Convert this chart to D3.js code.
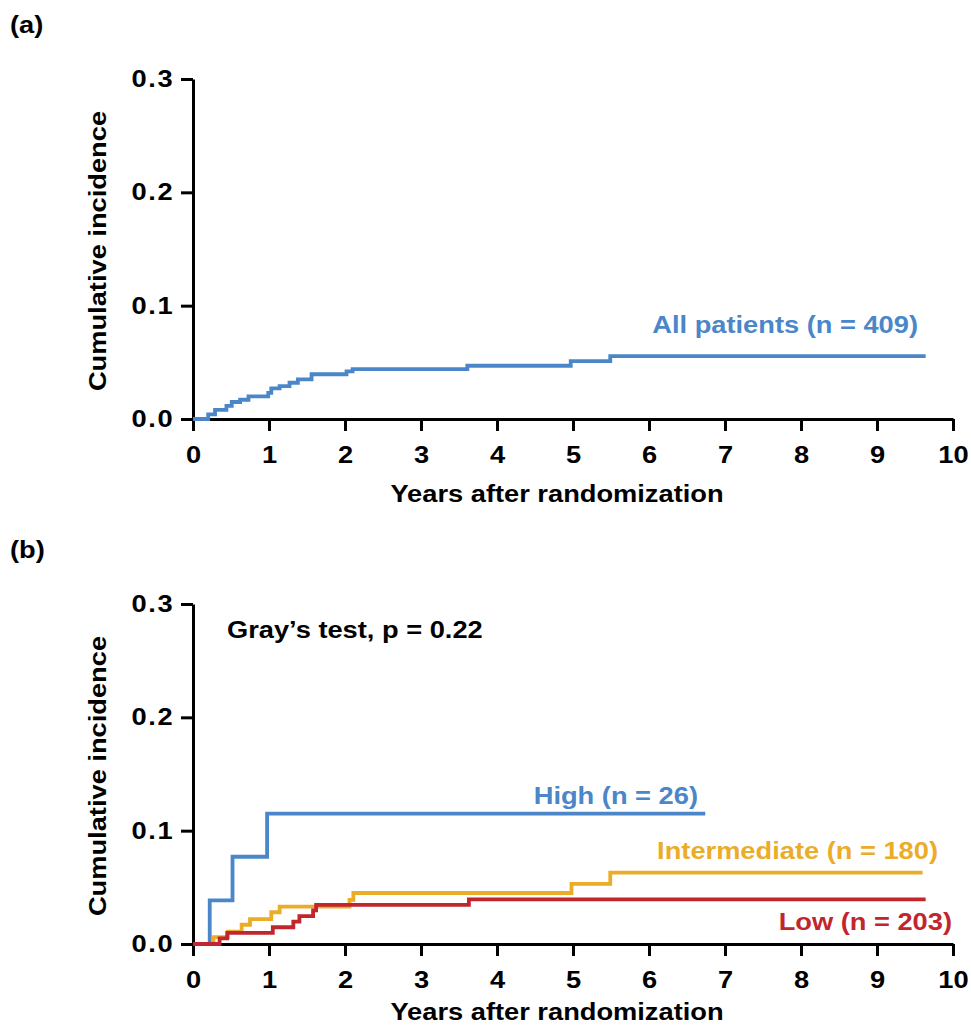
<!DOCTYPE html>
<html>
<head>
<meta charset="utf-8">
<script src="https://cdn.jsdelivr.net/npm/d3@7"></script>
<style>
  body { margin: 0; background: #fff; }
  text { font-family: Arial, "Liberation Sans", sans-serif; font-weight: bold; }
</style>
</head>
<body>
<div id="chart"></div>
<script>
// Step points (years, cumulative incidence)
var allTimes = [0, 0.20, 0.29, 0.44, 0.51, 0.62, 0.73, 0.99, 1.03, 1.14, 1.27, 1.38, 1.56, 2.02, 2.10, 3.61, 4.97, 5.49, 9.64];
var allVals  = [0, 0.004, 0.008, 0.0115, 0.015, 0.017, 0.020, 0.023, 0.027, 0.029, 0.032, 0.035, 0.0395, 0.042, 0.044, 0.047, 0.051, 0.0555, 0.0555];

var highTimes = [0, 0.22, 0.52, 0.975, 6.74];
var highVals  = [0, 0.0385, 0.077, 0.115, 0.115];

var interTimes = [0, 0.27, 0.46, 0.64, 0.75, 1.03, 1.14, 2.06, 2.11, 4.98, 5.49, 9.60];
var interVals  = [0, 0.006, 0.011, 0.017, 0.022, 0.028, 0.033, 0.039, 0.045, 0.053, 0.063, 0.063];

var lowTimes = [0, 0.35, 0.45, 1.05, 1.32, 1.40, 1.58, 1.62, 3.63, 9.64];
var lowVals  = [0, 0.0049, 0.0099, 0.0148, 0.0197, 0.0246, 0.0296, 0.0345, 0.0394, 0.0394];

var xTicks = [0, 1, 2, 3, 4, 5, 6, 7, 8, 9, 10];
var yTicks = [0, 0.1, 0.2, 0.3];

var colBlue = "#4a86c8";
var colYellow = "#ebac28";
var colRed = "#c1262c";

var svgWidth = 971;
var svgHeight = 1026;
var fs = 23.5;   // font size
var sx = 1.16;   // the figure's lettering is a bit wider than Arial

var svg = d3.select("#chart")
  .append("svg")
  .attr("width", svgWidth)
  .attr("height", svgHeight);

var xScale = d3.scaleLinear().domain([0, 10]).range([193, 953]);

function toPoints(times, vals) {
  return times.map(function(t, i) { return [t, vals[i]]; });
}

// text stretched horizontally around its anchor point
function addText(x, y, str, anchor, color, rotate) {
  return svg.append("text")
    .attr("transform", `translate(${x}, ${y})` + (rotate ? " rotate(-90)" : "") + ` scale(${sx}, 1)`)
    .attr("text-anchor", anchor)
    .attr("fill", color)
    .style("font-size", fs + "px")
    .text(str);
}

// Draw one panel, shifted down by offset
function drawPanel(offset, letter, titleY, series, labels) {
  var yScale = d3.scaleLinear().domain([0, 0.3]).range([419 + offset, 79 + offset]);

  var bottomAxis = d3.axisBottom(xScale).tickValues(xTicks).tickSize(12).tickSizeOuter(0).tickPadding(15);
  var leftAxis = d3.axisLeft(yScale).tickValues(yTicks).tickSize(12).tickSizeOuter(0)
    .tickFormat(d3.format(".1f"));

  var xg = svg.append("g")
    .attr("transform", `translate(0, ${yScale(0)})`)
    .call(bottomAxis);
  var yg = svg.append("g")
    .attr("transform", `translate(${xScale(0)}, 0)`)
    .call(leftAxis);

  [xg, yg].forEach(function(g) {
    g.selectAll("path, line").attr("stroke", "#000").attr("stroke-width", 3);
    g.selectAll("text").attr("fill", "#000").style("font-size", fs + "px")
      .attr("transform", `scale(${sx}, 1)`);
  });
  yg.selectAll("text")
    .attr("x", -18.5 / sx)
    .style("letter-spacing", "1.5px");

  var line = d3.line()
    .x(d => xScale(d[0]))
    .y(d => yScale(d[1]))
    .curve(d3.curveStepAfter);

  series.forEach(function(s) {
    svg.append("path")
      .datum(toPoints(s.times, s.vals))
      .attr("fill", "none")
      .attr("stroke", s.color)
      .attr("stroke-width", 3.8)
      .attr("d", line);
  });

  labels.forEach(function(l) {
    addText(l.x, l.y + offset, l.text, l.anchor, l.color);
  });

  // panel letter
  addText(10, 33 + offset, letter, "start", "#000");

  // axis titles
  addText(106, 251 + offset, "Cumulative incidence", "middle", "#000", true);
  addText(557, titleY, "Years after randomization", "middle", "#000");
}

drawPanel(0, "(a)", 502,
  [{times: allTimes, vals: allVals, color: colBlue}],
  [{text: "All patients (n = 409)", x: 918, y: 333, anchor: "end", color: colBlue}]);

drawPanel(525, "(b)", 1020,
  [{times: highTimes, vals: highVals, color: colBlue},
   {times: interTimes, vals: interVals, color: colYellow},
   {times: lowTimes, vals: lowVals, color: colRed}],
  [{text: "Gray\u2019s test, p = 0.22", x: 227, y: 113, anchor: "start", color: "#000"},
   {text: "High (n = 26)", x: 698, y: 279, anchor: "end", color: colBlue},
   {text: "Intermediate (n = 180)", x: 938, y: 334, anchor: "end", color: colYellow},
   {text: "Low (n = 203)", x: 952, y: 405, anchor: "end", color: colRed}]);
</script>
</body>
</html>
